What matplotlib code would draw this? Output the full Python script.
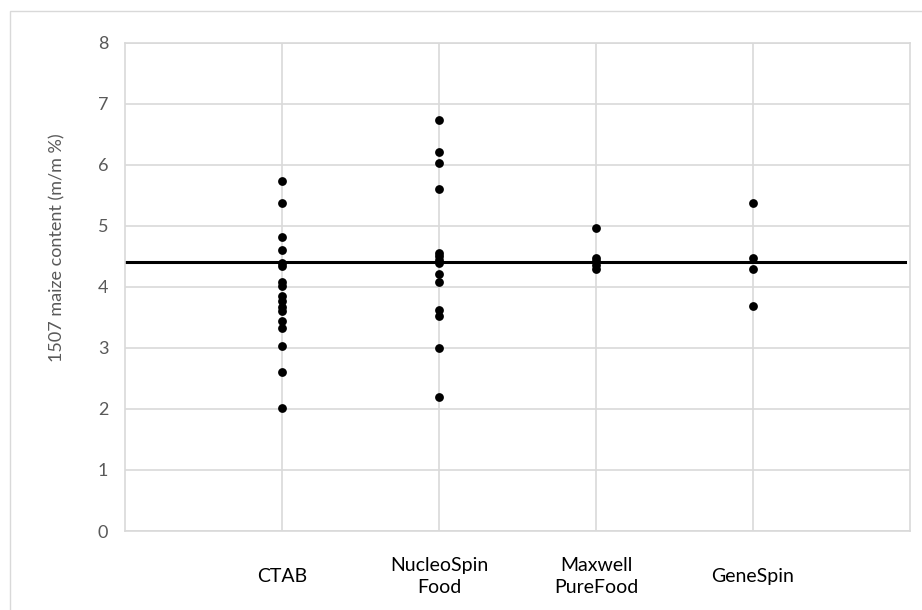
import matplotlib
matplotlib.use("Agg")
import matplotlib.pyplot as plt
from matplotlib.patches import Rectangle

# values
categories = ["CTAB", "NucleoSpin\nFood", "Maxwell\nPureFood", "GeneSpin"]
ctab = [5.73, 5.37, 4.82, 4.60, 4.40, 4.35, 4.09, 4.01, 3.85, 3.77, 3.68, 3.60,
        3.44, 3.33, 3.03, 2.60, 2.01]
nucleospin = [6.73, 6.21, 6.04, 5.60, 4.55, 4.50, 4.45, 4.40, 4.22, 4.09, 3.63,
              3.52, 3.00, 2.20]
maxwell = [4.97, 4.47, 4.42, 4.36, 4.30]
genespin = [5.37, 4.47, 4.30, 3.69]
reference_value = 4.41
y_ticks = [0, 1, 2, 3, 4, 5, 6, 7, 8]

series = [ctab, nucleospin, maxwell, genespin]

plt.rcParams["font.family"] = ["Lato", "DejaVu Sans"]
grey = "#595959"
grid_c = "#d9d9d9"

fig = plt.figure(figsize=(9.22, 6.10), dpi=100)
ax = fig.add_axes([125 / 922, 1 - 531 / 610, (910 - 125) / 922, (531 - 43) / 610])

# outer chart frame
fig.patches.append(Rectangle((10 / 922, -0.1), 1.2, 1 - 11 / 610 + 0.1,
                             transform=fig.transFigure, fill=False,
                             edgecolor=grid_c, linewidth=1))

for i, vals in enumerate(series, start=1):
    ax.scatter([i] * len(vals), vals, s=40, color="black", zorder=3, linewidths=0)

ax.axhline(reference_value, xmin=0.0, xmax=0.994, color="black", linewidth=2.2, zorder=2)

ax.set_xlim(0, 5)
ax.set_ylim(0, 8)
ax.set_yticks(y_ticks)
ax.set_xticks(range(1, len(categories) + 1))
ax.set_xticklabels(categories, linespacing=1.35)
for lab in ax.get_xticklabels():
    lab.set_va("center")

ax.grid(True, color=grid_c, linewidth=1.2, zorder=0)
ax.set_axisbelow(True)
for sp in ax.spines.values():
    sp.set_color(grid_c)
    sp.set_linewidth(1.2)

ax.tick_params(axis="both", length=0, labelcolor="black")
ax.tick_params(axis="y", pad=12, labelsize=13, labelcolor=grey)
ax.tick_params(axis="x", pad=33, labelsize=14)

ax.set_ylabel("1507 maize content (m/m %)", fontsize=13, color=grey)
ax.yaxis.set_label_coords(-(125 - 65) / 785, (531 - 248) / 488)

fig.savefig("out.png", dpi=100)
